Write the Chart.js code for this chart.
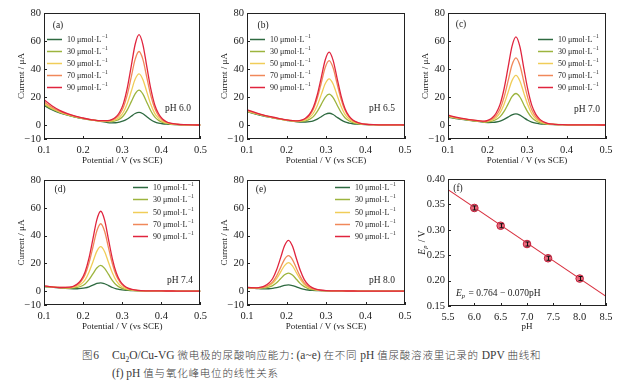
<!DOCTYPE html>
<html><head><meta charset="utf-8">
<script src="https://cdn.jsdelivr.net/npm/chart.js@4.4.1/dist/chart.umd.min.js"></script>
<style>
html,body{margin:0;padding:0;background:#fff;}
#wrap{position:relative;width:636px;height:382px;overflow:hidden;background:#fff;}
#wrap canvas{position:absolute;}
.cap{position:absolute;font-family:"Liberation Serif",serif;font-size:11.5px;color:#3a3a3a;white-space:nowrap;line-height:14px;font-weight:normal;}
.cj{font-family:"Noto Sans CJK SC",sans-serif;font-size:10.5px;letter-spacing:0.8px;font-weight:300;}
</style></head><body>
<div id="wrap">
<div class="cap" style="left:82px;top:348px;"><span class="cj">图</span>6</div>
<div class="cap" style="left:112px;top:348px;">Cu<sub style="font-size:7.5px;">2</sub>O/Cu-VG <span class="cj">微电极的尿酸响应能力</span>: (a~e) <span class="cj">在不同</span> pH <span class="cj">值尿酸溶液里记录的</span> DPV <span class="cj">曲线和</span></div>
<div class="cap" style="left:112px;top:366px;">(f) pH <span class="cj">值与氧化峰电位的线性关系</span></div>
</div>
<script>
// ---------------- data ----------------
const potentialTicks = [0.1, 0.2, 0.3, 0.4, 0.5];
const currentTicks = [-10, 0, 20, 40, 60, 80];
const concentrations = ['10', '30', '50', '70', '90'];
const panelNames = ['(a)', '(b)', '(c)', '(d)', '(e)'];
const phLabels = ['pH 6.0', 'pH 6.5', 'pH 7.0', 'pH 7.4', 'pH 8.0'];

const potA = [0.10,0.12,0.14,0.16,0.18,0.20,0.22,0.24,0.263,0.273,0.283,0.293,0.303,0.313,0.323,0.333,0.343,0.353,0.363,0.373,0.383,0.393,0.403,0.413,0.423,0.44,0.46,0.48,0.50];
const curA = [
 [14,11,8.7,7,5.6,4.5,3.6,2.8, 1.7,1.55,1.6,2.1,2.9,4.3,6.2,8.2,9.0,8.0,5.9,3.8,2.3,1.4,0.9,0.6,0.4, 0.25,0.1,0.05,0],
 [14.8,11.5,9,7.2,5.7,4.6,3.6,2.9, 2.5,2.5,3.1,4.2,6.6,10.8,16.5,22.3,24.9,22.1,16.1,10.2,5.8,3.3,1.9,1.1,0.7, 0.35,0.12,0.05,0],
 [15.5,12,9.4,7.4,5.9,4.7,3.7,2.9, 2.6,2.9,3.8,5.6,9.1,15.4,23.9,32.6,36.5,32.4,23.5,14.8,8.3,4.7,2.6,1.5,0.8, 0.4,0.15,0.05,0],
 [16.5,12.7,9.8,7.7,6.1,4.8,3.8,3.0, 2.9,3.4,4.8,7.5,12.7,21.7,34.2,46.9,52.5,46.7,33.8,21.1,11.9,6.5,3.6,2.0,1.1, 0.5,0.15,0.05,0],
 [18,13.8,10.5,8.1,6.3,5.0,3.9,3.1, 3.1,3.8,5.5,8.9,15.3,26.5,41.9,57.5,64.5,57.3,41.5,25.9,14.5,8.0,4.3,2.3,1.3, 0.55,0.2,0.05,0]
];

const potB = [0.10,0.12,0.14,0.16,0.18,0.20,0.228,0.238,0.248,0.258,0.268,0.278,0.288,0.298,0.308,0.318,0.328,0.338,0.348,0.358,0.368,0.378,0.388,0.40,0.42,0.44,0.46,0.48,0.50];
const curB = [
 [9.5,8.0,6.6,5.4,4.3,3.4, 2.3,2.1,2.15,2.4,3.0,4.25,5.9,7.7,8.4,7.5,5.5,3.65,2.2,1.4,0.9,0.6,0.45, 0.3,0.2,0.15,0.1,0.05,0],
 [9.8,8.2,6.8,5.5,4.4,3.5, 2.5,2.55,3.0,4.0,6.0,9.7,14.7,19.8,22.0,19.6,14.3,9.1,5.2,3.0,1.7,1.05,0.65, 0.4,0.2,0.15,0.1,0.05,0],
 [10,8.4,6.9,5.6,4.5,3.5, 2.7,2.9,3.65,5.3,8.4,14.0,21.7,29.5,33.0,29.3,21.3,13.4,7.6,4.3,2.4,1.4,0.8, 0.45,0.2,0.15,0.1,0.05,0],
 [10.3,8.6,7.0,5.7,4.6,3.6, 2.9,3.3,4.45,6.8,11.3,19.2,30.0,41.1,46.0,40.9,29.6,18.6,10.5,5.8,3.2,1.8,1.0, 0.5,0.2,0.15,0.1,0.05,0],
 [10.8,9.0,7.3,5.9,4.7,3.7, 3.0,3.5,4.8,7.5,12.6,21.6,33.9,46.4,52.0,46.2,33.5,21.0,11.8,6.5,3.6,2.0,1.1, 0.55,0.2,0.15,0.1,0.05,0]
];

const potC = [0.10,0.12,0.14,0.16,0.18,0.192,0.202,0.212,0.222,0.232,0.242,0.252,0.262,0.272,0.282,0.292,0.302,0.312,0.322,0.332,0.342,0.352,0.37,0.39,0.41,0.43,0.45,0.47,0.50];
const curC = [
 [5.5,4.6,3.8,3.1,2.4, 1.9,1.8,1.9,2.15,2.8,4.0,5.6,7.3,8.0,7.1,5.2,3.4,2.1,1.3,0.85,0.57,0.4, 0.25,0.2,0.15,0.1,0.05,0.02,0],
 [6,4.9,4.0,3.2,2.6, 2.1,2.3,2.8,3.9,6.0,9.7,14.9,20.2,22.5,20.0,14.5,9.2,5.3,3.0,1.7,1.0,0.6, 0.35,0.2,0.15,0.1,0.05,0.02,0],
 [6.3,5.1,4.2,3.4,2.7, 2.3,2.7,3.6,5.4,8.8,14.9,23.2,31.7,35.5,31.5,22.8,14.4,8.1,4.5,2.5,1.4,0.8, 0.4,0.2,0.15,0.1,0.05,0.02,0],
 [6.6,5.3,4.3,3.5,2.8, 2.5,3.1,4.3,6.9,11.6,19.9,31.3,42.9,48.0,42.7,30.9,19.4,10.9,6.0,3.3,1.8,1.0, 0.45,0.2,0.15,0.1,0.05,0.02,0],
 [7.0,5.6,4.5,3.6,2.9, 2.7,3.5,5.2,8.6,14.9,25.9,40.9,56.2,63.0,56.0,40.5,25.4,14.2,7.8,4.2,2.3,1.2, 0.5,0.2,0.15,0.1,0.05,0.02,0]
];

const potD = [0.10,0.12,0.14,0.165,0.175,0.185,0.195,0.205,0.215,0.225,0.235,0.245,0.255,0.265,0.275,0.285,0.295,0.305,0.315,0.325,0.34,0.36,0.38,0.40,0.42,0.44,0.46,0.48,0.50];
const curD = [
 [3.2,2.8,2.3, 1.8,1.7,1.7,1.9,2.3,3.1,4.3,5.5,6.0,5.3,4.0,2.6,1.6,1.05,0.7,0.5,0.4, 0.25,0.2,0.15,0.1,0.08,0.05,0.03,0.01,0],
 [3.4,2.9,2.5, 2.2,2.3,2.7,3.5,5.2,8.2,12.4,16.6,18.5,16.4,12.0,7.6,4.4,2.5,1.5,0.9,0.6, 0.3,0.2,0.15,0.1,0.08,0.05,0.03,0.01,0],
 [3.5,3.0,2.5, 2.4,2.7,3.5,5.1,8.1,13.6,21.0,28.6,32.0,28.4,20.6,13.0,7.3,4.1,2.3,1.3,0.8, 0.35,0.2,0.15,0.1,0.08,0.05,0.03,0.01,0],
 [3.6,3.0,2.6, 2.6,3.2,4.5,7.1,11.8,20.1,31.6,43.3,48.5,43.1,31.2,19.5,11.0,6.1,3.3,1.8,1.0, 0.45,0.2,0.15,0.1,0.08,0.05,0.03,0.01,0],
 [3.8,3.1,2.6, 2.8,3.5,5.1,8.1,13.8,23.7,37.4,51.3,57.5,51.1,37.0,23.1,13.0,7.1,3.9,2.1,1.2, 0.5,0.2,0.15,0.1,0.08,0.05,0.03,0.01,0]
];

const potE = [0.10,0.11,0.125,0.135,0.145,0.155,0.165,0.175,0.185,0.195,0.205,0.215,0.225,0.235,0.245,0.255,0.265,0.275,0.285,0.30,0.32,0.34,0.36,0.38,0.40,0.42,0.44,0.46,0.48,0.50];
const curE = [
 [2.2,2.0, 1.85,1.7,1.65,1.7,2.0,2.5,3.3,4.15,4.5,4.0,3.0,2.0,1.3,0.8,0.57,0.41,0.3, 0.2,0.15,0.1,0.08,0.06,0.05,0.04,0.03,0.02,0.01,0],
 [2.4,2.2, 2.1,2.1,2.3,2.9,4.0,6.0,8.9,11.8,13.0,11.6,8.5,5.4,3.2,1.8,1.1,0.7,0.4, 0.3,0.15,0.1,0.08,0.06,0.05,0.04,0.03,0.02,0.01,0],
 [2.5,2.3, 2.2,2.4,2.8,3.8,5.6,9.0,13.7,18.4,20.5,18.2,13.3,8.4,4.8,2.7,1.55,0.9,0.55, 0.3,0.15,0.1,0.08,0.06,0.05,0.04,0.03,0.02,0.01,0],
 [2.6,2.4, 2.3,2.5,3.1,4.35,6.7,11.0,16.9,22.9,25.5,22.7,16.5,10.4,5.9,3.3,1.85,1.05,0.6, 0.35,0.15,0.1,0.08,0.06,0.05,0.04,0.03,0.02,0.01,0],
 [2.7,2.5, 2.4,2.85,3.8,5.65,9.1,15.4,23.9,32.6,36.5,32.4,23.5,14.8,8.3,4.6,2.5,1.4,0.8, 0.35,0.2,0.1,0.08,0.06,0.05,0.04,0.03,0.02,0.01,0]
];

const phValues = [6.0, 6.5, 7.0, 7.4, 8.0];
const peakPotentials = [0.343, 0.308, 0.272, 0.244, 0.204];
const peakErrors = [0.004, 0.004, 0.004, 0.004, 0.004];
const fitPH = [5.5, 8.5];
const fitEp = [0.379, 0.169];
const phTicks = [5.5, 6.0, 6.5, 7.0, 7.5, 8.0, 8.5];
const epTicks = [0.15, 0.20, 0.25, 0.30, 0.35, 0.40];

// ---------------- styles / layout ----------------
const seriesColors = ['#2e6a40', '#9cb43e', '#f0cd58', '#f0885a', '#e0243e'];
const SERIF = '"Liberation Serif", "Times New Roman", serif';
const layouts = [
  {left:0,   top:0,   w:212, h:166, pad:{left:16,right:8, top:13}, xh:27, legend:{x:3, y:26,dy:12},   label:{x:14,y:12}, ph:{x:134,y:95}},
  {left:212, top:0,   w:212, h:166, pad:{left:7, right:19,top:13}, xh:27, legend:{x:3, y:26,dy:12},   label:{x:16,y:12}, ph:{x:135,y:95}},
  {left:420, top:0,   w:216, h:166, pad:{left:0, right:30,top:13}, xh:27, legend:{x:90,y:26,dy:12},   label:{x:13,y:11}, ph:{x:139,y:96}},
  {left:0,   top:165, w:212, h:167, pad:{left:16,right:9, top:15}, xh:27, legend:{x:89,y:7, dy:12.3}, label:{x:16,y:9},  ph:{x:136,y:100}},
  {left:212, top:165, w:212, h:167, pad:{left:7, right:19,top:15}, xh:27, legend:{x:88,y:7, dy:12.3}, label:{x:14,y:9},  ph:{x:135,y:100}}
];
const layoutF = {left:410, top:165, w:226, h:167, pad:{left:10,right:30,top:14}, xh:26, ytitleX:2};

// ---------------- plugins ----------------
const framePlugin = {
  id: 'frame',
  afterDatasetsDraw(chart) {
    const {ctx, chartArea: a} = chart;
    ctx.save();
    ctx.strokeStyle = '#222';
    ctx.lineWidth = 1;
    ctx.strokeRect(Math.round(a.left) + 0.5, Math.round(a.top) + 0.5, Math.round(a.right - a.left) - 1, Math.round(a.bottom - a.top) - 1);
    const xs = chart.scales.x, ys = chart.scales.y;
    ctx.beginPath();
    xs.ticks.forEach(t => {
      const px = Math.round(xs.getPixelForValue(t.value)) + 0.5;
      ctx.moveTo(px, a.bottom); ctx.lineTo(px, a.bottom - 3);
    });
    ys.ticks.forEach(t => {
      const py = Math.round(ys.getPixelForValue(t.value)) + 0.5;
      ctx.moveTo(a.left, py); ctx.lineTo(a.left + 3, py);
    });
    ctx.stroke();
    ctx.restore();
  }
};

const annotPlugin = {
  id: 'annot',
  afterDraw(chart, args, o) {
    const {ctx, chartArea: a} = chart;
    ctx.save();
    ctx.fillStyle = '#222';
    ctx.textBaseline = 'middle';
    if (o.panel) {
      ctx.font = '9.5px ' + SERIF;
      ctx.textAlign = 'center';
      ctx.fillText(o.panel.text, a.left + o.panel.x, a.top + o.panel.y);
    }
    if (o.ph) {
      ctx.font = '9.5px ' + SERIF;
      ctx.textAlign = 'center';
      ctx.fillText(o.ph.text, a.left + o.ph.x, a.top + o.ph.y);
    }
    if (o.legend) {
      chart.data.datasets.forEach((ds, i) => {
        const y = Math.round(a.top + o.legend.y + i * o.legend.dy) + 0.5;
        const x0 = a.left + o.legend.x;
        ctx.strokeStyle = ds.borderColor;
        ctx.lineWidth = 1.5;
        ctx.beginPath(); ctx.moveTo(x0, y); ctx.lineTo(x0 + 15, y); ctx.stroke();
        ctx.fillStyle = '#222';
        ctx.textAlign = 'left';
        ctx.font = '8px ' + SERIF;
        const t = ds.label + ' μmol·L';
        const tx = x0 + 20;
        ctx.fillText(t, tx, y);
        const w = ctx.measureText(t).width;
        ctx.font = '5.5px ' + SERIF;
        ctx.fillText('−1', tx + w + 0.5, y - 2.5);
      });
    }
    if (o.equation) {
      let x = a.left + o.equation.x;
      const y = a.top + o.equation.y;
      ctx.textAlign = 'left';
      ctx.font = 'italic 9.5px ' + SERIF;
      ctx.fillText('E', x, y);
      x += ctx.measureText('E').width;
      ctx.font = 'italic 6.5px ' + SERIF;
      ctx.fillText('p', x, y + 3);
      x += ctx.measureText('p').width + 1;
      ctx.font = '9.5px ' + SERIF;
      ctx.fillText(' = 0.764 − 0.070pH', x, y);
    }
    if (o.ytitle) {
      ctx.save();
      ctx.translate(chart.scales.y.left + o.ytitle.x, (a.top + a.bottom) / 2);
      ctx.rotate(-Math.PI / 2);
      ctx.font = 'italic 9.5px ' + SERIF;
      const w1 = ctx.measureText('E').width;
      ctx.font = 'italic 6.5px ' + SERIF;
      const w2 = ctx.measureText('p').width;
      ctx.font = '9.5px ' + SERIF;
      const w3 = ctx.measureText(' / V').width;
      let x = -(w1 + w2 + 1 + w3) / 2;
      ctx.textAlign = 'left';
      ctx.font = 'italic 9.5px ' + SERIF;
      ctx.fillText('E', x, 0); x += w1;
      ctx.font = 'italic 6.5px ' + SERIF;
      ctx.fillText('p', x, 3); x += w2 + 1;
      ctx.font = '9.5px ' + SERIF;
      ctx.fillText(' / V', x, 0);
      ctx.restore();
    }
    ctx.restore();
  }
};

const errorBarPlugin = {
  id: 'errbars',
  afterDatasetsDraw(chart, args, o) {
    if (!o.values) return;
    const {ctx} = chart;
    const xs = chart.scales.x, ys = chart.scales.y;
    ctx.save();
    ctx.strokeStyle = '#111';
    ctx.lineWidth = 1;
    o.x.forEach((xv, i) => {
      const px = Math.round(xs.getPixelForValue(xv)) + 0.5;
      const y1 = ys.getPixelForValue(o.values[i] + o.err[i]);
      const y2 = ys.getPixelForValue(o.values[i] - o.err[i]);
      ctx.beginPath();
      ctx.moveTo(px, y1); ctx.lineTo(px, y2);
      ctx.moveTo(px - 2, y1); ctx.lineTo(px + 2, y1);
      ctx.moveTo(px - 2, y2); ctx.lineTo(px + 2, y2);
      ctx.stroke();
    });
    ctx.restore();
  }
};

// ---------------- helpers ----------------
function fmtCurrent(v) { return v < 0 ? '−' + Math.abs(v) : String(v); }

function makeCanvas(L) {
  const c = document.createElement('canvas');
  c.width = L.w; c.height = L.h;
  c.style.left = L.left + 'px'; c.style.top = L.top + 'px';
  c.style.width = L.w + 'px'; c.style.height = L.h + 'px';
  document.getElementById('wrap').appendChild(c);
  return c;
}

function axisCommon() {
  return {
    grid: {display: false, drawTicks: false},
    border: {display: false}
  };
}

const tickFont = {family: SERIF, size: 10.5};
const titleFont = {family: SERIF, size: 9};

const potentials = [potA, potB, potC, potD, potE];
const currents = [curA, curB, curC, curD, curE];

layouts.forEach((L, p) => {
  const canvas = makeCanvas(L);
  const datasets = currents[p].map((ys, i) => ({
    label: concentrations[i],
    data: potentials[p].map((x, k) => ({x: x, y: ys[k]})),
    borderColor: seriesColors[i],
    borderWidth: 1.3,
    pointRadius: 0,
    fill: false,
    tension: 0.4,
    cubicInterpolationMode: 'monotone',
    order: 4 - i
  }));
  new Chart(canvas, {
    type: 'line',
    data: {datasets},
    options: {
      responsive: false,
      animation: false,
      devicePixelRatio: 1,
      layout: {padding: {left: L.pad.left, right: L.pad.right, top: L.pad.top, bottom: 0}},
      plugins: {
        legend: {display: false},
        tooltip: {enabled: false},
        annot: {
          panel: {text: panelNames[p], x: L.label.x, y: L.label.y},
          ph: {text: phLabels[p], x: L.ph.x, y: L.ph.y},
          legend: L.legend
        }
      },
      scales: {
        x: Object.assign(axisCommon(), {
          type: 'linear', min: 0.1, max: 0.5,
          afterBuildTicks: s => { s.ticks = potentialTicks.map(v => ({value: v})); },
          afterFit: s => { s.height = L.xh; },
          ticks: {font: tickFont, color: '#1a1a1a', padding: 5, maxRotation: 0, callback: v => v.toFixed(1)},
          title: {display: true, text: 'Potential / V (vs SCE)', font: titleFont, color: '#1a1a1a', padding: 0}
        }),
        y: Object.assign(axisCommon(), {
          type: 'linear', min: -10, max: 80,
          afterBuildTicks: s => { s.ticks = currentTicks.map(v => ({value: v})); },
          afterFit: s => { s.width = 28; },
          ticks: {font: tickFont, color: '#1a1a1a', padding: 3, callback: v => fmtCurrent(v)},
          title: {display: true, text: 'Current / μA', font: titleFont, color: '#1a1a1a', padding: 0}
        })
      }
    },
    plugins: [framePlugin, annotPlugin]
  });
});

// panel (f)
(function () {
  const L = layoutF;
  const canvas = makeCanvas(L);
  new Chart(canvas, {
    type: 'scatter',
    data: {
      datasets: [
        {
          type: 'scatter',
          data: phValues.map((x, i) => ({x: x, y: peakPotentials[i]})),
          pointRadius: 3.8,
          pointBackgroundColor: 'rgba(232,92,112,0.9)',
          pointBorderColor: '#c21f3a',
          pointBorderWidth: 1,
          order: 0
        },
        {
          type: 'line',
          data: fitPH.map((x, i) => ({x: x, y: fitEp[i]})),
          borderColor: '#d8303f',
          borderWidth: 1.1,
          pointRadius: 0,
          fill: false,
          order: 1
        }
      ]
    },
    options: {
      responsive: false,
      animation: false,
      devicePixelRatio: 1,
      layout: {padding: {left: L.pad.left, right: L.pad.right, top: L.pad.top, bottom: 0}},
      plugins: {
        legend: {display: false},
        tooltip: {enabled: false},
        annot: {
          panel: {text: '(f)', x: 10, y: 9},
          equation: {x: 8, y: 114},
          ytitle: {x: L.ytitleX}
        },
        errbars: {x: phValues, values: peakPotentials, err: peakErrors}
      },
      scales: {
        x: Object.assign(axisCommon(), {
          type: 'linear', min: 5.5, max: 8.5,
          afterBuildTicks: s => { s.ticks = phTicks.map(v => ({value: v})); },
          afterFit: s => { s.height = L.xh; },
          ticks: {font: tickFont, color: '#1a1a1a', padding: 5, maxRotation: 0, callback: v => v.toFixed(1)},
          title: {display: true, text: 'pH', font: titleFont, color: '#1a1a1a', padding: 0}
        }),
        y: Object.assign(axisCommon(), {
          type: 'linear', min: 0.15, max: 0.40,
          afterBuildTicks: s => { s.ticks = epTicks.map(v => ({value: v})); },
          afterFit: s => { s.width = 28; },
          ticks: {font: tickFont, color: '#1a1a1a', padding: 3, callback: v => v.toFixed(2)},
          title: {display: false}
        })
      }
    },
    plugins: [framePlugin, errorBarPlugin, annotPlugin]
  });
})();
</script>
</body></html>
